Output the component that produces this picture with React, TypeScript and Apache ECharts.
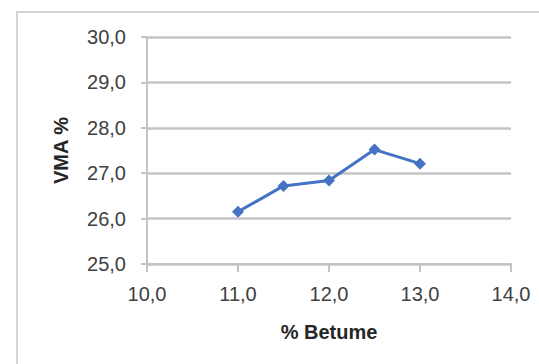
import React, { useEffect, useRef } from "react";
import * as echarts from "echarts";

// Bitumen content (%) and the resulting VMA (%)
const betume: number[] = [11.0, 11.5, 12.0, 12.5, 13.0];
const vma: number[] = [26.15, 26.72, 26.84, 27.52, 27.21];

const xTitle = "% Betume";
const yTitle = "VMA %";

const fmt = (v: number) => v.toFixed(1).replace(".", ",");

export default function App() {
  const ref = useRef<HTMLDivElement>(null);

  useEffect(() => {
    document.body.style.margin = "0";
    if (!ref.current) return;
    const chart = echarts.init(ref.current, undefined, { renderer: "svg" });
    const font = "'Liberation Sans', Arial, sans-serif";
    const gray = "#c4c4c4";
    chart.setOption({
      animation: false,
      backgroundColor: "#ffffff",
      textStyle: { fontFamily: font },
      graphic: [
        {
          type: "rect",
          shape: { x: 17, y: 12, width: 620, height: 420 },
          style: { fill: "none", stroke: "#d4d4d4", lineWidth: 2 },
          silent: true,
        },
      ],
      grid: { left: 147, right: 28, top: 37, bottom: 100 },
      xAxis: {
        type: "value",
        min: 10,
        max: 14,
        interval: 1,
        name: xTitle,
        nameLocation: "middle",
        nameGap: 58,
        nameTextStyle: { fontSize: 20, fontWeight: "bold", color: "#262626", fontFamily: font },
        axisLine: { show: true, lineStyle: { color: gray, width: 2 } },
        axisTick: { show: true, length: 8, lineStyle: { color: gray, width: 2 } },
        splitLine: { show: false },
        axisLabel: { fontSize: 20, color: "#404040", margin: 20, formatter: (v: number) => fmt(v) },
      },
      yAxis: {
        type: "value",
        min: 25,
        max: 30,
        interval: 1,
        name: yTitle,
        nameLocation: "middle",
        nameGap: 76,
        nameRotate: 90,
        nameTextStyle: { fontSize: 20, fontWeight: "bold", color: "#262626", fontFamily: font },
        axisLine: { show: true, lineStyle: { color: gray, width: 2 } },
        axisTick: { show: true, length: 6, lineStyle: { color: gray, width: 2 } },
        splitLine: { show: true, lineStyle: { color: gray, width: 2.5 } },
        axisLabel: { fontSize: 20, color: "#404040", margin: 21, formatter: (v: number) => fmt(v) },
      },
      series: [
        {
          type: "line",
          data: betume.map((b, i) => [b, vma[i]]),
          symbol: "diamond",
          symbolSize: 12,
          lineStyle: { color: "#4472c4", width: 3 },
          itemStyle: { color: "#4472c4" },
        },
      ],
    });
    return () => chart.dispose();
  }, []);

  return <div ref={ref} style={{ width: 539, height: 364 }} />;
}
